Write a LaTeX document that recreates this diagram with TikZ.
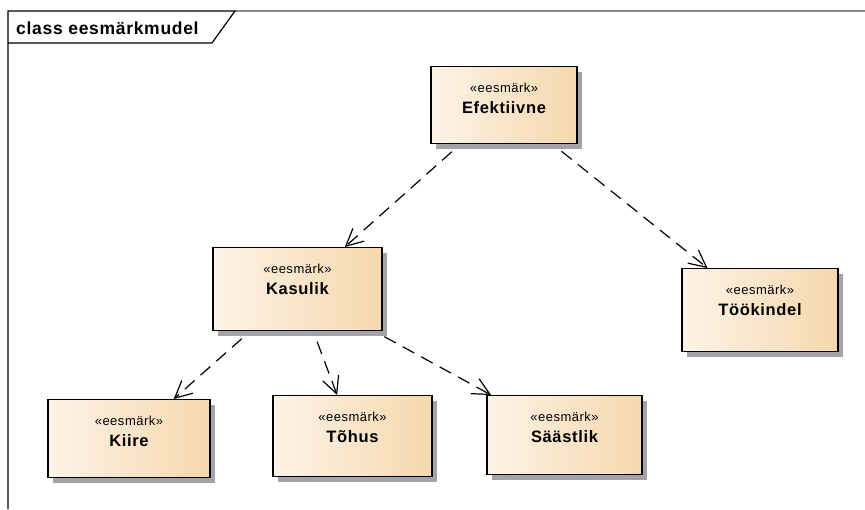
\documentclass[tikz,border=0pt]{standalone}
\usepackage{fontspec}
\setmainfont{Liberation Sans}
\newfontfamily\uifont[LetterSpace=4]{Liberation Sans}
\usetikzlibrary{arrows.meta,shadows}

\definecolor{goalL}{HTML}{FCF3E7}
\definecolor{goalR}{HTML}{F5D8AC}
\definecolor{shadowgray}{HTML}{A4A4A8}
\definecolor{framegray}{HTML}{8C8C8C}

\tikzset{
  x=1pt, y=-1pt,
  goal/.style={rectangle, draw=black, line width=1.4pt, inner sep=0pt,
    left color=goalL, right color=goalR,
    drop shadow={shadow xshift=5pt, shadow yshift=-5pt, fill=shadowgray, opacity=1}},
  stereo/.style={font=\uifont\fontsize{13}{15}\selectfont, inner sep=0pt},
  gname/.style={font=\uifont\bfseries\fontsize{16.5}{18}\selectfont, inner sep=0pt},
  dep/.style={draw, line width=1.2pt, dash pattern=on 13pt off 8pt,
    -{Straight Barb[length=17pt,width=17pt,line width=1.2pt]}, shorten <=11pt},
}

% goal box: name, centre x, top y, width, height, title
\newcommand\goalbox[6]{%
  \node[goal, minimum width=#4pt, minimum height=#5pt, anchor=north] (#1) at (#2,#3) {};
  \node[stereo] (#1-s) at ([yshift=-22pt]#1.north) {«eesmärk»};
  \node[gname] (#1-n) at ([yshift=-42pt]#1.north) {#6};
}

\begin{document}
\begin{tikzpicture}
\useasboundingbox (0,0) rectangle (865,509);

% diagram frame with its name tab
\coordinate (f0) at (8,11);
\coordinate (f1) at (235,11);
\coordinate (f2) at (212,43);
\coordinate (f3) at (8,43);
\coordinate (fr) at (865,11);
\coordinate (fb) at (8,509);
\draw[framegray, line width=1.2pt] (f1) -- (fr);
\draw[black, line width=1.2pt] (fb) -- (f0) -- (f1) -- (f2) -- (f3);
\node[font=\uifont\bfseries\fontsize{17.5}{19}\selectfont, anchor=west, inner sep=0pt] (title) at (16,28) {class eesmärkmudel};

% goals
\goalbox{efe}{504}{66}{146}{77}{Efektiivne}
\goalbox{kas}{297.5}{247}{169}{83}{Kasulik}
\goalbox{too}{760}{268}{156}{83}{Töökindel}
\goalbox{kii}{129}{399}{162}{78}{Kiire}
\goalbox{toh}{352.5}{395}{159}{81}{Tõhus}
\goalbox{saa}{564.5}{395}{155}{79}{Säästlik}

% dependencies
\draw[dep] (efe) -- (kas);
\draw[dep] (efe) -- (too);
\draw[dep] (kas) -- (kii);
\draw[dep] (kas) -- (toh);
\draw[dep] (kas) -- (saa);
\end{tikzpicture}
\end{document}
